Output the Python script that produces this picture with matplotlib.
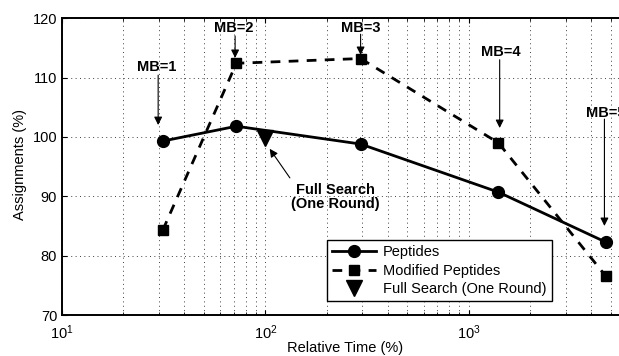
#!/usr/bin/env python3
"""Assignments vs relative time for peptides / modified peptides."""

import matplotlib

matplotlib.use("Agg")
import matplotlib.pyplot as plt

plt.rcParams["font.family"] = ["Liberation Sans", "DejaVu Sans"]
plt.rcParams["mathtext.fontset"] = "custom"
plt.rcParams["mathtext.rm"] = "Liberation Sans"

# Data
rel_time = [31.3, 72, 294, 1400, 4710]
peptides = [99.3, 101.8, 98.8, 90.7, 82.3]
modified = [84.3, 112.4, 113.2, 99.0, 76.6]
full_time = [100]
full_assign = [99.9]

mb_labels = ["MB=1", "MB=2", "MB=3", "MB=4", "MB=5"]
mb_text_pos = [(29.3, 111.8), (70, 118.4), (294, 118.4), (1436, 114.3), (4710, 104.0)]
mb_arrow_head = [(29.7, 102.0), (71, 113.3), (294, 113.8), (1420, 101.5), (4650, 85.0)]
mb_arrow_tail = [(29.7, 110.4), (71, 117.0), (294, 117.3), (1420, 113.0), (4650, 103.0)]

fig = plt.figure(figsize=(6.19, 3.56), dpi=100)
# axes run past the right edge of the picture, as in the reference
ax = fig.add_axes([0.1002, 0.115, 0.9855, 0.834])

ax.plot(rel_time, peptides, "k-", marker="o", markersize=8.5, lw=2.0, label="Peptides")
ax.plot(rel_time, modified, "k--", marker="s", markersize=7, lw=2.0,
        dashes=(3.5, 3), label="Modified Peptides")
ax.plot(full_time, full_assign, "kv", markersize=11, linestyle="none",
        label="Full Search (One Round)")

ax.set_xscale("log")
ax.set_xlim(10, 10000)
ax.set_ylim(70, 120)
ax.set_yticks([70, 80, 90, 100, 110, 120])
grid_style = dict(linestyle=(0, (1, 3.5)), color="0.25", lw=0.7)
ax.grid(True, which="major", **grid_style)
ax.grid(True, which="minor", axis="x", **grid_style)
ax.tick_params(which="both", direction="in", top=True, right=True, labelsize=10.5)
ax.tick_params(axis="x", which="major", pad=6)
for s in ax.spines.values():
    s.set_linewidth(1.4)

ax.set_xlabel("Relative Time (%)", fontsize=10.5)
ax.set_ylabel("Assignments (%)", fontsize=10.5)
ax.xaxis.set_label_coords(0.464, -0.088)
ax.yaxis.set_label_coords(-0.057, 0.506)

arrow = dict(arrowstyle="-|>", lw=0.8, color="k", mutation_scale=12,
             shrinkA=0, shrinkB=0)
for label, tpos, head, tail in zip(mb_labels, mb_text_pos, mb_arrow_head, mb_arrow_tail):
    ax.text(tpos[0], tpos[1], label, ha="center", va="center",
            fontsize=10.5, fontweight="bold")
    ax.annotate("", xy=head, xytext=tail, arrowprops=arrow)

ax.text(220, 89.9, "Full Search\n(One Round)", ha="center", va="center",
        fontsize=10.5, fontweight="bold", linespacing=1.0)
ax.annotate("", xy=(105, 98.0), xytext=(132, 93.1), arrowprops=arrow)

leg = ax.legend(loc="lower left", bbox_to_anchor=(0.434, 0.047), borderaxespad=0,
                fancybox=False, framealpha=1, edgecolor="k", fontsize=10.5,
                handlelength=3.0, handletextpad=0.5, labelspacing=0.3,
                borderpad=0.35)
leg.get_frame().set_linewidth(1.0)

fig.savefig("out.png", dpi=100)
